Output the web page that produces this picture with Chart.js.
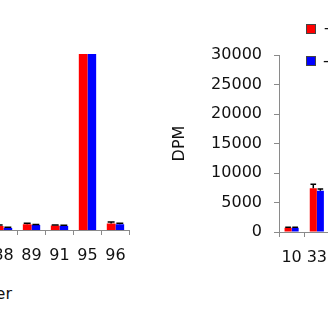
<!DOCTYPE html>
<html>
<head>
<meta charset="utf-8">
<script src="https://cdn.jsdelivr.net/npm/chart.js@4.4.1/dist/chart.umd.min.js"></script>
<style>
  html, body { margin: 0; padding: 0; background: #fff; }
  body { width: 328px; height: 328px; position: relative; overflow: hidden; font-family: "DejaVu Sans", sans-serif; }
  canvas { position: absolute; }
  #leftChart { left: -17px; top: 0; }
  #rightChart { left: 164px; top: 0; }
  #leftTitle { position: absolute; right: 316px; top: 284px; font-size: 16px; color: #111; white-space: nowrap; }
  .legendItem { position: absolute; left: 306px; font-size: 16px; color: #111; white-space: nowrap; display: flex; align-items: center; }
  .legendItem span.box { display: inline-block; width: 10px; height: 10px; border: 1px solid #444; box-sizing: border-box; margin-right: 7px; }
</style>
</head>
<body>
<canvas id="leftChart" width="153" height="270"></canvas>
<canvas id="rightChart" width="174" height="280"></canvas>
<div id="leftTitle">Fraction number</div>
<div id="legend"></div>
<script>
// data
const leftCategories = ["88", "89", "91", "95", "96"];
const leftRed = [700, 1000, 750, 30000, 1100];
const leftBlue = [350, 850, 700, 30000, 1000];
const leftRedErr = [150, 150, 100, 0, 250];
const leftBlueErr = [100, 100, 100, 0, 150];

const rightCategories = ["10", "33"];
const rightRed = [700, 7400];
const rightBlue = [700, 7000];
const rightRedErr = [100, 700];
const rightBlueErr = [100, 300];

const seriesLabels = ["+", "-"];
const yTickStep = 5000;
const yMax = 30000;

const COLOR = {
  red: "#FF0000",
  blue: "#0000FF",
  axis: "#8a8a8a",
  text: "#111",
};

Chart.defaults.font.family = "DejaVu Sans";
Chart.defaults.font.size = 16;
Chart.defaults.color = COLOR.text;

// draws black error bars on top of each bar
const errorBars = {
  id: "errorBars",
  afterDatasetsDraw(chart) {
    const ctx = chart.ctx;
    const yScale = chart.scales.y;
    ctx.save();
    ctx.strokeStyle = "#000";
    ctx.lineWidth = 1.5;
    chart.data.datasets.forEach((ds, i) => {
      const meta = chart.getDatasetMeta(i);
      meta.data.forEach((bar, j) => {
        const err = ds.errors[j];
        if (!err) return;
        const yTop = yScale.getPixelForValue(ds.data[j] + err);
        const half = bar.width * 0.4;
        ctx.beginPath();
        ctx.moveTo(bar.x, bar.y);
        ctx.lineTo(bar.x, yTop);
        ctx.moveTo(bar.x - half, yTop);
        ctx.lineTo(bar.x + half, yTop);
        ctx.stroke();
      });
    });
    ctx.restore();
  },
};

const makeDatasets = (red, blue, redErr, blueErr, catPct) => [
  {
    label: seriesLabels[0],
    data: red,
    errors: redErr,
    backgroundColor: COLOR.red,
    barPercentage: 1.0,
    categoryPercentage: catPct,
  },
  {
    label: seriesLabels[1],
    data: blue,
    errors: blueErr,
    backgroundColor: COLOR.blue,
    barPercentage: 1.0,
    categoryPercentage: catPct,
  },
];

const xAxis = height => ({
  offset: true,
  grid: {
    display: true,
    drawOnChartArea: false,
    drawTicks: true,
    tickLength: 5,
    color: COLOR.axis,
    offset: true,
  },
  border: { color: COLOR.axis },
  ticks: { padding: 11, maxRotation: 0, autoSkip: false },
  afterFit: scale => {
    scale.height = height;
  },
});

// left chart (its y axis is outside the picture)
new Chart(document.getElementById("leftChart"), {
  type: "bar",
  data: {
    labels: leftCategories,
    datasets: makeDatasets(leftRed, leftBlue, leftRedErr, leftBlueErr, 0.62),
  },
  options: {
    responsive: false,
    animation: false,
    devicePixelRatio: 1,
    layout: { padding: { top: 54, left: 0, right: 0, bottom: 0 } },
    plugins: { legend: { display: false }, tooltip: { enabled: false } },
    scales: {
      x: xAxis(40),
      y: { display: false, min: 0, max: yMax },
    },
  },
  plugins: [errorBars],
});

// right chart
new Chart(document.getElementById("rightChart"), {
  type: "bar",
  data: {
    labels: rightCategories,
    datasets: makeDatasets(rightRed, rightBlue, rightRedErr, rightBlueErr, 0.56),
  },
  options: {
    responsive: false,
    animation: false,
    devicePixelRatio: 1,
    layout: { padding: { top: 55, left: 0, right: 0, bottom: 0 } },
    plugins: { legend: { display: false }, tooltip: { enabled: false } },
    scales: {
      x: xAxis(48),
      y: {
        min: 0,
        max: yMax,
        ticks: { stepSize: yTickStep, padding: 12, callback: value => String(value) },
        grid: {
          display: true,
          drawOnChartArea: false,
          drawTicks: true,
          tickLength: 5,
          color: COLOR.axis,
        },
        border: { color: COLOR.axis },
        title: {
          display: true,
          text: "DPM",
          padding: { top: 6, bottom: 0 },
        },
        afterFit: scale => {
          scale.width = 115;
        },
      },
    },
  },
  plugins: [errorBars],
});

// legend, built from the series labels
const legend = document.getElementById("legend");
const legendColors = [COLOR.red, COLOR.blue];
const legendTops = [19, 51];
seriesLabels.forEach((label, i) => {
  const item = document.createElement("div");
  item.className = "legendItem";
  item.style.top = legendTops[i] + "px";
  item.innerHTML = '<span class="box" style="background:' + legendColors[i] + '"></span>' + label + " ATP";
  legend.appendChild(item);
});
</script>
</body>
</html>
